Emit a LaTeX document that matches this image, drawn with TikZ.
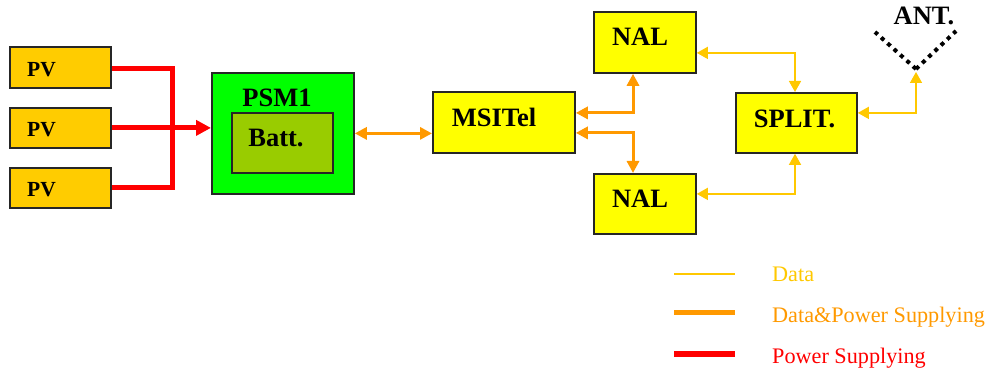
\documentclass[tikz,border=0pt]{standalone}
\usepackage{fontspec}
\setmainfont{Liberation Serif}
\usetikzlibrary{arrows.meta}
\definecolor{pvcol}{HTML}{FFCC00}
\definecolor{psmcol}{HTML}{00FF00}
\definecolor{battcol}{HTML}{99CC00}
\definecolor{boxcol}{HTML}{FFFF00}
\definecolor{datacol}{HTML}{FFC800}
\definecolor{dpcol}{HTML}{FF9900}
\definecolor{pwrcol}{HTML}{FF0000}
\tikzset{
  blk/.style={draw=black!85, line width=1.8pt, anchor=north west, inner sep=0pt},
  txt/.style={anchor=base, inner sep=0pt, font=\fontsize{26.5}{30}\selectfont\bfseries},
  pvtxt/.style={anchor=base west, inner sep=0pt, font=\fontsize{21.5}{26}\selectfont\bfseries},
  legtxt/.style={anchor=base west, inner sep=0pt, font=\fontsize{22.2}{26}\selectfont},
  pwr/.style={draw=pwrcol, line width=5pt, line join=miter},
  dp/.style={draw=dpcol, line width=3pt},
  data/.style={draw=datacol, line width=1.5pt},
  pwrtip/.style={-{Triangle[length=15pt,width=15pt]}},
  dptip/.style={{Triangle[length=12pt,width=12pt]}-{Triangle[length=12pt,width=12pt]}},
  datatip/.style={{Triangle[length=11pt,width=12pt]}-{Triangle[length=11pt,width=12pt]}},
}
\begin{document}
\begin{tikzpicture}[x=1pt,y=-1pt]
\useasboundingbox (0,0) rectangle (988,371);
% PV boxes
\node[blk, fill=pvcol, minimum width=101, minimum height=41] (pv1) at (9,46) {};
\node[blk, fill=pvcol, minimum width=101, minimum height=40] (pv2) at (9,107) {};
\node[blk, fill=pvcol, minimum width=101, minimum height=40] (pv3) at (9,167) {};
\node[pvtxt] (pv1t) at (27,76.5) {PV};
\node[pvtxt] (pv2t) at (27,137) {PV};
\node[pvtxt] (pv3t) at (27,196.5) {PV};
% PSM1
\node[blk, fill=psmcol, minimum width=142, minimum height=121] (psm) at (211,72) {};
\node[txt] (psmt) at (277,107) {PSM1};
\node[blk, fill=battcol, minimum width=101, minimum height=60] (batt) at (231,112) {};
\node[txt] (battt) at (276,147) {Batt.};
% MSITel
\node[blk, fill=boxcol, minimum width=142, minimum height=61] (msi) at (432,91) {};
\node[txt] (msit) at (494,127) {MSITel};
% NAL
\node[blk, fill=boxcol, minimum width=102, minimum height=61] (nal1) at (593,11) {};
\node[txt] (nal1t) at (640,46) {NAL};
\node[blk, fill=boxcol, minimum width=102, minimum height=60] (nal2) at (593,173) {};
\node[txt] (nal2t) at (640,208) {NAL};
% SPLIT
\node[blk, fill=boxcol, minimum width=121, minimum height=60] (split) at (735,92) {};
\node[txt] (splitt) at (794.5,128) {SPLIT.};
% Antenna
\coordinate (antL) at (875,32);
\coordinate (antB) at (916,69);
\coordinate (antR) at (956,31);
\draw[line width=4pt, dash pattern=on 4pt off 4.6pt] (antB) -- (antL);
\draw[line width=4pt, dash pattern=on 4pt off 4.6pt] (antB) -- (antR);
\coordinate (antF) at (916,72);
\node[txt] (antt) at (924,25) {ANT.};
% power lines
\coordinate (jr) at (172,0);
\draw[pwr] ([yshift=-1.5pt]pv1.east) -| (jr |- pv3.east) -- (pv3.east);
\draw[pwr, pwrtip] (pv2.east) -- (psm.west |- pv2.east);
% data & power
\draw[dp, dptip] (psm.east) -- (msi.west |- psm.east);
\coordinate (jo) at (633,0);
\draw[dp, dptip] ([yshift=9.5pt]msi.east) -| (jo |- nal1.south);
\draw[dp, dptip] ([yshift=-10.5pt]msi.east) -| (jo |- nal2.north);
% data
\coordinate (jy) at (795,0);
\draw[data, datatip] ([yshift=-10.5pt]nal1.east) -| (jy |- split.north);
\draw[data, datatip] ([yshift=10pt]nal2.east) -| (jy |- split.south);
\draw[data, datatip] ([yshift=10pt]split.east) -| (antF);
% legend
\coordinate (l1a) at (674,274); \coordinate (l1b) at (735,274);
\coordinate (l2a) at (674,313); \coordinate (l2b) at (735,313);
\coordinate (l3a) at (674,354); \coordinate (l3b) at (735,354);
\draw[data] (l1a) -- (l1b);
\draw[draw=dpcol, line width=5pt] (l2a) -- (l2b);
\draw[draw=pwrcol, line width=5.5pt] (l3a) -- (l3b);
\node[legtxt, text=datacol] (lg1) at (772,282) {Data};
\node[legtxt, text=dpcol] (lg2) at (772,323) {Data\&Power Supplying};
\node[legtxt, text=pwrcol] (lg3) at (772,363) {Power Supplying};
\end{tikzpicture}
\end{document}
